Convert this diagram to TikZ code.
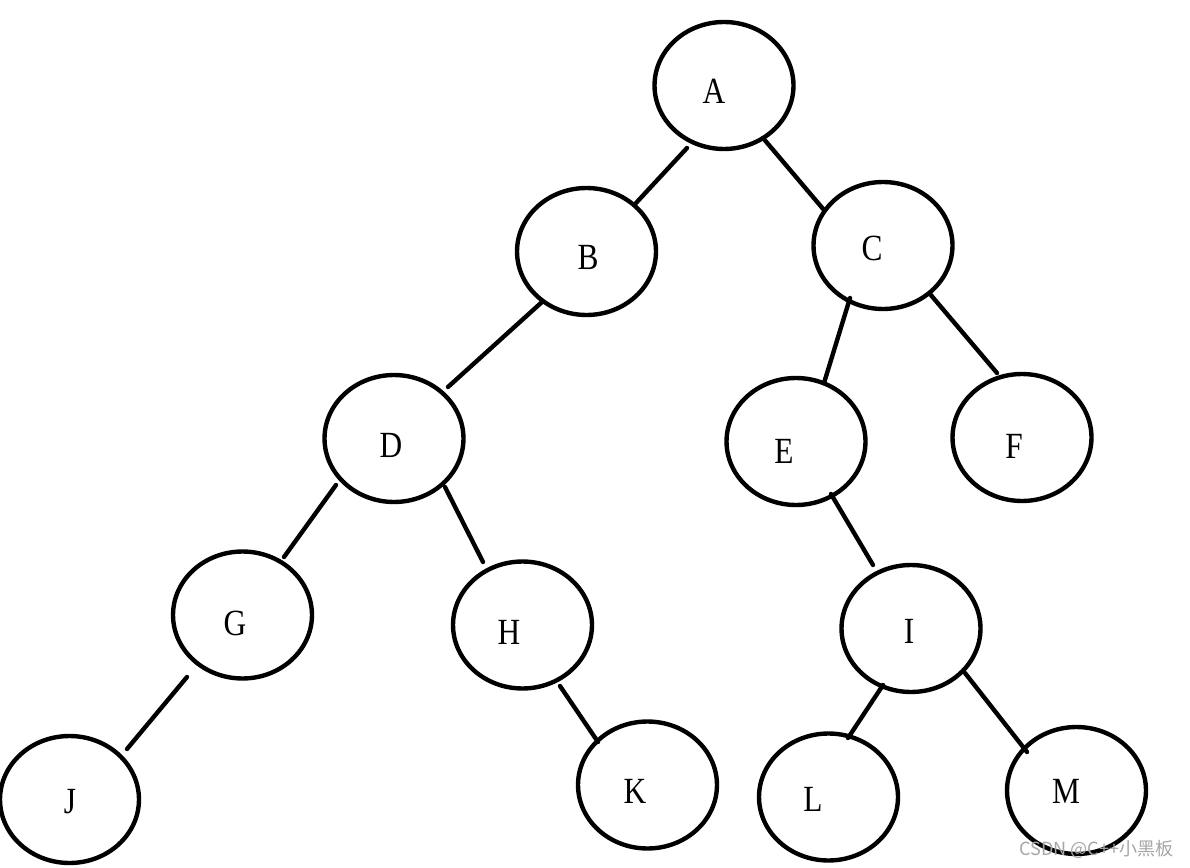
\documentclass[tikz,border=0pt]{standalone}
\usepackage{fontspec}
\setmainfont{Liberation Serif}
\newfontfamily\cjkwm{Noto Sans CJK SC}
\usetikzlibrary{shapes.geometric,calc}
\tikzset{
  treenode/.style={draw, ellipse, line width=2.5pt, minimum width=2.78cm, minimum height=2.54cm, inner sep=0pt},
  treelabel/.style={inner sep=0pt, font=\fontsize{21}{21}\selectfont, xscale=0.85},
  treeedge/.style={line width=2.5pt, line cap=round},
  watermark/.style={inner sep=0pt, text=black!35, font=\cjkwm\fontsize{10.3}{11}\selectfont}
}
\begin{document}
\begin{tikzpicture}[x=0.02cm, y=-0.02cm]
\useasboundingbox (0,0) rectangle (1190,868);
% ellipses
\node[treenode] (A) at (724,85.5) {};
\node[treenode] (B) at (586.5,251.5) {};
\node[treenode] (C) at (883,245.5) {};
\node[treenode] (D) at (394,438.5) {};
\node[treenode] (E) at (796,441.5) {};
\node[treenode] (F) at (1022,437.5) {};
\node[treenode] (G) at (242.5,615) {};
\node[treenode] (H) at (522.5,625) {};
\node[treenode] (I) at (911,628.5) {};
\node[treenode] (J) at (69.5,799.5) {};
\node[treenode] (K) at (647.5,785) {};
\node[treenode] (L) at (828.5,797) {};
\node[treenode] (M) at (1076.5,790.5) {};
% labels
\node[treelabel] (tA) at (714,91) {A};
\node[treelabel] (tB) at (588,257) {B};
\node[treelabel] (tC) at (872,248) {C};
\node[treelabel] (tD) at (391,445) {D};
\node[treelabel] (tE) at (784,451) {E};
\node[treelabel] (tF) at (1014,446) {F};
\node[treelabel] (tG) at (235,623) {G};
\node[treelabel] (tH) at (509,632) {H};
\node[treelabel] (tI) at (909,631) {I};
\node[treelabel] (tJ) at (70,802) {J};
\node[treelabel] (tK) at (635,791) {K};
\node[treelabel] (tL) at (813,799) {L};
\node[treelabel] (tM) at (1066,791) {M};
% edges
\draw[treeedge] ($(A)+(-37,62.5)$) -- ($(B)+(49.5,-48.5)$);
\draw[treeedge] ($(A)+(39,52.5)$) -- ($(C)+(-59,-35.5)$);
\draw[treeedge] ($(B)+(-44.5,50.5)$) -- ($(D)+(54,-51.5)$);
\draw[treeedge] ($(C)+(-33,52.5)$) -- ($(E)+(28,-58.5)$);
\draw[treeedge] ($(C)+(47,48.5)$) -- ($(F)+(-25,-64.5)$);
\draw[treeedge] ($(D)+(-58,46.5)$) -- ($(G)+(41.5,-58)$);
\draw[treeedge] ($(D)+(51,48.5)$) -- ($(H)+(-39.5,-63)$);
\draw[treeedge] ($(E)+(35,52.5)$) -- ($(I)+(-38,-63.5)$);
\draw[treeedge] ($(G)+(-55.5,62)$) -- ($(J)+(57.5,-50.5)$);
\draw[treeedge] ($(H)+(37.5,61)$) -- ($(K)+(-49.5,-43)$);
\draw[treeedge] ($(I)+(-28,56.5)$) -- ($(L)+(19.5,-59)$);
\draw[treeedge] ($(I)+(54,44.5)$) -- ($(M)+(-49.5,-38.5)$);
% watermark
\node[watermark, anchor=east] (wm) at (1174,849) {CSDN @C++小黑板};
\end{tikzpicture}
\end{document}
